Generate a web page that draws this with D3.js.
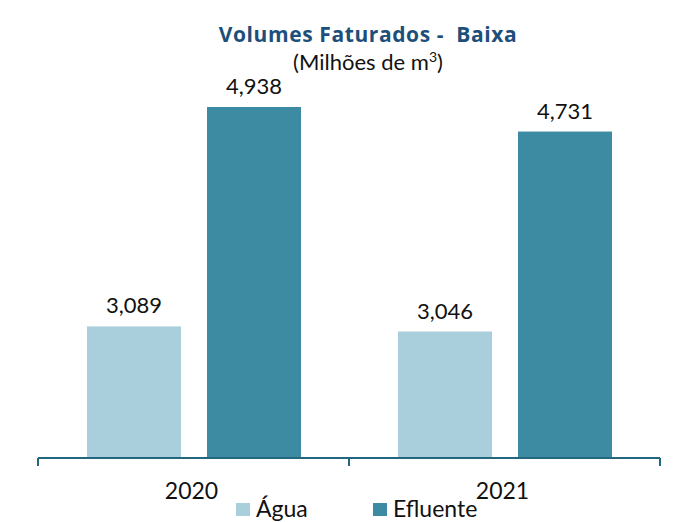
<!DOCTYPE html>
<html>
<head>
	<meta charset="utf-8">
	<title>Volumes Faturados - Baixa</title>
	<style>
		body { margin: 0; background: #fff; }
		svg { display: block; font-family: Lato, "Open Sans", sans-serif; }
		.axis path, .axis line { stroke: #23677e; stroke-width: 2; fill: none; }
		.axis text { font-size: 23px; fill: #111; }
	</style>
</head>
<body>
	<div id="chart"></div>
<script src="https://d3js.org/d3.v7.min.js"></script>
<script>
	// Data
	var years = ["2020", "2021"];
	var seriesNames = ["Água", "Efluente"];
	var agua = [3089, 3046];
	var efluente = [4938, 4731];
	var colors = ["#a9cfdd", "#3d8ba3"];

	var W = 675, H = 522;
	var svg = d3.select("#chart").append("svg")
		.attr("width", W).attr("height", H);

	// Scales
	var x0 = d3.scaleBand().domain(years).range([38, 660]).paddingInner(0).paddingOuter(0);
	var x1 = d3.scaleBand().domain(seriesNames).range([49, 263]).paddingInner(0.2167).paddingOuter(0);
	var y = d3.scaleLinear().domain([1980, 4938]).range([458, 107]);

	var data = years.map(function(yr, i) {
		return { year: yr, values: [agua[i], efluente[i]] };
	});

	// Bars
	var groups = svg.selectAll("g.year")
		.data(data).enter().append("g")
		.attr("class", "year")
		.attr("transform", function(d) { return "translate(" + x0(d.year) + ",0)"; });

	groups.selectAll("rect")
		.data(function(d) { return d.values.map(function(v, j) { return { name: seriesNames[j], v: v, c: colors[j] }; }); })
		.enter().append("rect")
		.attr("x", function(d) { return x1(d.name); })
		.attr("y", function(d) { return y(d.v); })
		.attr("width", x1.bandwidth())
		.attr("height", function(d) { return y.range()[0] - y(d.v); })
		.attr("fill", function(d) { return d.c; });

	groups.selectAll("text.val")
		.data(function(d) { return d.values.map(function(v, j) { return { name: seriesNames[j], v: v }; }); })
		.enter().append("text")
		.attr("class", "val")
		.attr("x", function(d) { return x1(d.name) + x1.bandwidth() / 2; })
		.attr("y", function(d) { return y(d.v) - 13; })
		.attr("text-anchor", "middle")
		.attr("font-size", "22px")
		.attr("fill", "#111")
		.text(function(d) { return d3.format(",")(d.v); });

	// Axis
	var axis = svg.append("g").attr("class", "axis")
		.attr("transform", "translate(0,458)");
	axis.append("line").attr("x1", x0.range()[0]).attr("x2", x0.range()[1]).attr("y1", 0).attr("y2", 0);
	var ticks = [x0.range()[0]].concat(years.map(function(yr) { return x0(yr) + x0.bandwidth(); }));
	axis.selectAll("line.tick").data(ticks).enter().append("line")
		.attr("class", "tick")
		.attr("x1", function(d) { return d; }).attr("x2", function(d) { return d; })
		.attr("y1", 0).attr("y2", 8);
	axis.selectAll("text").data(years).enter().append("text")
		.attr("x", function(d) { return x0(d) + x0.bandwidth() / 2 - 2; })
		.attr("y", 41)
		.attr("text-anchor", "middle")
		.text(function(d) { return d; });

	// Title
	svg.append("text").attr("x", 368).attr("y", 42)
		.attr("text-anchor", "middle")
		.attr("font-family", "'Open Sans', sans-serif")
		.attr("font-size", "21px").attr("font-weight", "bold")
		.attr("letter-spacing", "0.6px")
		.attr("fill", "#1d4f7a")
		.style("white-space", "pre")
		.text("Volumes Faturados -  Baixa");
	var sub = svg.append("text").attr("x", 368).attr("y", 70)
		.attr("text-anchor", "middle")
		.attr("font-size", "22px").attr("fill", "#111");
	sub.append("tspan").text("(Milhões de m");
	sub.append("tspan").attr("dy", -8).attr("font-size", "14px").text("3");
	sub.append("tspan").attr("dy", 8).text(")");

	// Legend
	var legendX = [236, 373];
	var leg = svg.selectAll("g.legend").data(seriesNames).enter().append("g")
		.attr("class", "legend")
		.attr("transform", function(d, i) { return "translate(" + legendX[i] + ",503)"; });
	leg.append("rect").attr("width", 14).attr("height", 13)
		.attr("fill", function(d, i) { return colors[i]; });
	leg.append("text").attr("x", 20).attr("y", 14)
		.attr("font-size", "23px").attr("fill", "#111")
		.text(function(d) { return d; });
</script>
</body>
</html>
